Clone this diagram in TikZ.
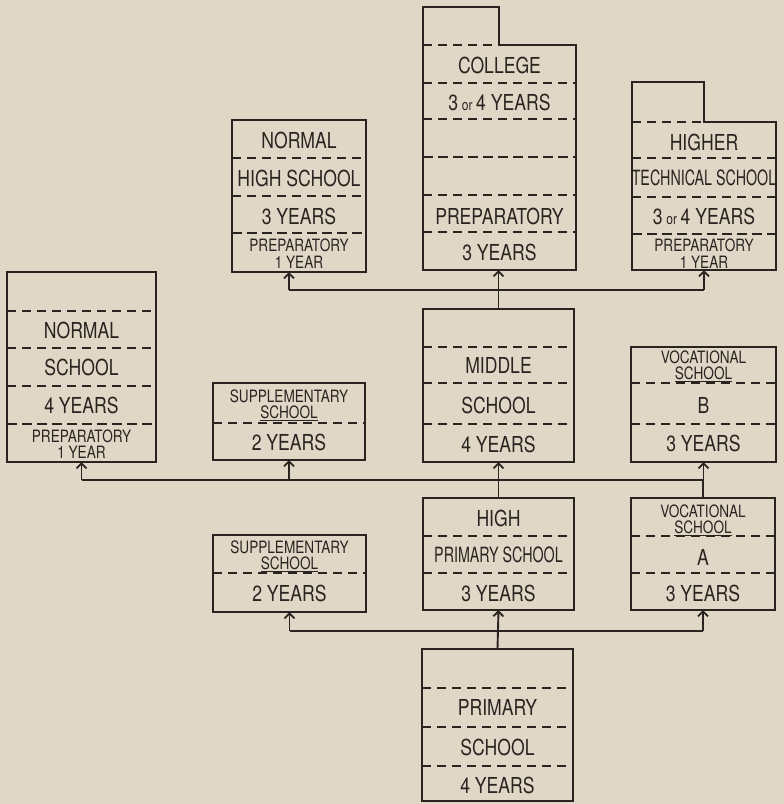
\documentclass[tikz,border=0pt]{standalone}
\usepackage{fontspec}
\newfontfamily\hand[FakeStretch=0.8]{TeX Gyre Heros}
\newfontfamily\handn[FakeStretch=0.68]{TeX Gyre Heros}
\usetikzlibrary{arrows.meta}
\definecolor{paper}{HTML}{E0D7C6}
\definecolor{ink}{HTML}{2A2421}
\tikzset{
  box/.style={draw=ink, line width=2.4pt, inner sep=0pt, outer sep=0pt},
  body/.style={inner sep=0pt, outer sep=0pt},
  frame/.style={draw=ink, line width=2.4pt, line join=miter},
  sep/.style={draw=ink, line width=1.4pt, dash pattern=on 9pt off 6pt},
  sepbold/.style={draw=ink, line width=2.8pt, dash pattern=on 10pt off 5pt},
  lbl/.style={text=ink, inner sep=0pt, font=\hand\fontsize{22}{24}\selectfont},
  lblsm/.style={text=ink, inner sep=0pt, font=\hand\fontsize{17}{18}\selectfont},
  lblnar/.style={text=ink, inner sep=0pt, font=\handn\fontsize{21}{22}\selectfont},
  wire/.style={draw=ink, line width=1.9pt},
  link/.style={wire, -{Straight Barb[length=5pt,width=10pt]}}
}
\begin{document}
\begin{tikzpicture}[x=1pt,y=-1pt]
\fill[paper] (0,0) rectangle (784,804);
\useasboundingbox (0,0) rectangle (784,804);

% top row
\node[box, minimum width=134pt, minimum height=152pt] (nhs) at (299,196) {};
\node[body, minimum width=153pt, minimum height=225pt] (col) at (499.5,157.5) {};
\node[body, minimum width=144pt, minimum height=148pt] (htc) at (704,196) {};
\draw[frame] (col.south west) -- (423,7) -- (499,7) -- (499,45) -- (col.north east) -- (col.south east) -- cycle;
\draw[frame] (htc.south west) -- (632,82) -- (704,82) -- (704,122) -- (htc.north east) -- (htc.south east) -- cycle;
\draw[sep] (col.north west) -- (499,45);
\draw[sep] (htc.north west) -- (704,122);

% middle row
\node[box, minimum width=149pt, minimum height=190pt] (ns) at (81.5,367) {};
\node[box, minimum width=152pt, minimum height=77pt] (sup1) at (289,421.5) {};
\node[box, minimum width=151pt, minimum height=153pt] (mid) at (498.5,385.5) {};
\node[box, minimum width=145pt, minimum height=115pt] (vocB) at (703.5,404.5) {};

% lower rows
\node[box, minimum width=153pt, minimum height=77pt] (sup2) at (289.5,573.5) {};
\node[box, minimum width=151pt, minimum height=112pt] (hps) at (498.5,554) {};
\node[box, minimum width=144pt, minimum height=112pt] (vocA) at (703,554) {};
\node[box, minimum width=151pt, minimum height=152pt] (pri) at (497.5,725) {};

% dividers
\foreach \b/\y in {nhs/158,nhs/196,col/83,col/119,col/195,col/232,htc/158,htc/197,
                   ns/311,ns/348,ns/386,sup1/423,mid/347,mid/383,mid/424,vocB/383,vocB/424,
                   sup2/573,hps/536,hps/573,vocA/536,vocA/573,pri/688,pri/727,pri/766}
  \draw[sep] (\b.west |- 0,\y) -- (\b.east |- 0,\y);
\foreach \b/\y in {nhs/233,col/157,htc/234,ns/424}
  \draw[sepbold] (\b.west |- 0,\y) -- (\b.east |- 0,\y);

% labels
\node[lbl] (nhsA) at (299,140) {NORMAL};
\node[lbl] (nhsB) at (299,178) {HIGH SCHOOL};
\node[lbl] (nhsC) at (299,216) {3 YEARS};
\node[lblsm] (nhsD) at (299,245) {PREPARATORY};
\node[lblsm] (nhsE) at (299,262) {1 YEAR};

\node[lbl] (colA) at (499.5,65) {COLLEGE};
\node[lbl] (colB) at (499.5,102) {3\,{\fontsize{15}{15}\selectfont or}\,4 YEARS};
\node[lbl] (colC) at (499.5,216) {PREPARATORY};
\node[lbl] (colD) at (499.5,252) {3 YEARS};

\node[lbl] (htcA) at (704,142) {HIGHER};
\node[lblnar] (htcB) at (704,178) {TECHNICAL SCHOOL};
\node[lbl] (htcC) at (704,216) {3\,{\fontsize{15}{15}\selectfont or}\,4 YEARS};
\node[lblsm] (htcD) at (704,245) {PREPARATORY};
\node[lblsm] (htcE) at (704,262) {1 YEAR};

\node[lbl] (nsA) at (81.5,330) {NORMAL};
\node[lbl] (nsB) at (81.5,367) {SCHOOL};
\node[lbl] (nsC) at (81.5,405) {4 YEARS};
\node[lblsm] (nsD) at (81.5,436) {PREPARATORY};
\node[lblsm] (nsE) at (81.5,452) {1 YEAR};

\node[lblsm] (supA) at (289,396) {SUPPLEMENTARY};
\node[lblsm] (supB) at (289,413) {\underline{SCHOOL}};
\node[lbl] (supC) at (289,442) {2 YEARS};

\node[lbl] (midA) at (498.5,365) {MIDDLE};
\node[lbl] (midB) at (498.5,405) {SCHOOL};
\node[lbl] (midC) at (498.5,444) {4 YEARS};

\node[lblsm] (vbA) at (703.5,357) {VOCATIONAL};
\node[lblsm] (vbB) at (703.5,374) {\underline{SCHOOL}};
\node[lbl] (vbC) at (703.5,405) {B};
\node[lbl] (vbD) at (703.5,443) {3 YEARS};

\node[lblsm] (sup2A) at (289.5,547) {SUPPLEMENTARY};
\node[lblsm] (sup2B) at (289.5,564) {\underline{SCHOOL}};
\node[lbl] (sup2C) at (289.5,593) {2 YEARS};

\node[lbl] (hpsA) at (498.5,518) {HIGH};
\node[lblnar] (hpsB) at (498.5,555) {PRIMARY SCHOOL};
\node[lbl] (hpsC) at (498.5,593) {3 YEARS};

\node[lblsm] (vaA) at (703,511) {VOCATIONAL};
\node[lblsm] (vaB) at (703,528) {\underline{SCHOOL}};
\node[lbl] (vaC) at (703,557) {A};
\node[lbl] (vaD) at (703,593) {3 YEARS};

\node[lbl] (priA) at (497.5,707) {PRIMARY};
\node[lbl] (priB) at (497.5,747) {SCHOOL};
\node[lbl] (priC) at (497.5,785) {4 YEARS};

% connectors
\coordinate (busT) at (0,290);
\coordinate (busM) at (0,480);
\coordinate (busB) at (0,631);
\coordinate (nhsIn) at ([xshift=-10pt]nhs.south);
\draw[wire] (nhsIn |- busT) -- (htc.south |- busT);
\draw[link] (nhsIn |- busT) -- (nhsIn);
\draw[link] (htc.south |- busT) -- (htc.south);
\draw[link] (mid.north) -- (mid.north |- col.south);

\draw[wire] (ns.south |- busM) -- (vocB.south |- busM);
\foreach \t in {ns,sup1,vocB}
  \draw[link] (\t.south |- busM) -- (\t.south);
\draw[wire] (vocA.north) -- (vocA.north |- busM);
\draw[link] (hps.north) -- (mid.south);

\draw[wire] (sup2.south |- busB) -- (vocA.south |- busB);
\foreach \t in {sup2,vocA}
  \draw[link] (\t.south |- busB) -- (\t.south);
\draw[link] (pri.north) -- (hps.south);
\end{tikzpicture}
\end{document}
